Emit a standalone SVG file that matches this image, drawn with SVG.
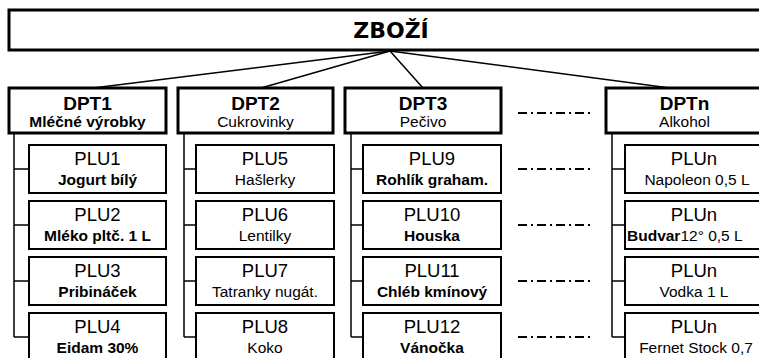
<svg xmlns="http://www.w3.org/2000/svg" width="759" height="358" viewBox="0 0 759 358">
<style>
text{font-family:"Liberation Sans",Arial,sans-serif;fill:#000;text-anchor:middle}
.top{fill:#fff;stroke:#000;stroke-width:3}
.dpt{fill:#fff;stroke:#000;stroke-width:3}
.plu{fill:#fff;stroke:#000;stroke-width:2}
.t0{font-family:"DejaVu Sans",sans-serif;font-weight:bold;font-size:22px}
.t1{font-weight:bold;font-size:19px}
.t2{font-size:15.5px}
.b{font-weight:bold}
.t3{font-size:18.5px}
.ln{stroke:#000;stroke-width:1.5;fill:none}
.dd{stroke:#000;stroke-width:2;fill:none;stroke-dasharray:9 4 2 4}
</style>
<g id="zbozi">
<rect class="top" x="9" y="10" width="760" height="40"/>
<text class="t0" x="391" y="38">ZBOŽÍ</text>
</g>
<g id="connectors">
<line class="ln" x1="390" y1="51" x2="93" y2="88"/>
<line class="ln" x1="390" y1="51" x2="261" y2="88"/>
<line class="ln" x1="390" y1="51" x2="423" y2="88"/>
<line class="ln" x1="390" y1="51" x2="670" y2="88"/>
<path class="ln" d="M14 133V337M14 169H29M14 225H29M14 281H29M14 337H29"/>
<path class="ln" d="M184 133V337M184 169H196M184 225H196M184 281H196M184 337H196"/>
<path class="ln" d="M351 133V337M351 169H363M351 225H363M351 281H363M351 337H363"/>
<path class="ln" d="M612 133V337M612 169H625M612 225H625M612 281H625M612 337H625"/>
<path class="dd" d="M518 113H591M518 169H591M518 225H591M518 281H591M518 337H591"/>
</g>
<g id="dpt1"><rect class="dpt" x="9" y="88" width="157" height="45"/><text class="t1" x="87.5" y="110">DPT1</text><text class="t2 b" x="87.5" y="127">Mléčné výrobky</text></g>
<g id="dpt2"><rect class="dpt" x="178" y="88" width="155" height="45"/><text class="t1" x="255.5" y="110">DPT2</text><text class="t2" x="255.5" y="127">Cukrovinky</text></g>
<g id="dpt3"><rect class="dpt" x="345" y="88" width="156" height="45"/><text class="t1" x="423" y="110">DPT3</text><text class="t2" x="423" y="127">Pečivo</text></g>
<g id="dptn"><rect class="dpt" x="606" y="88" width="157" height="45"/><text class="t1" x="684.5" y="110">DPTn</text><text class="t2" x="684.5" y="127">Alkohol</text></g>

<g id="plu1"><rect class="plu" x="29" y="145" width="137" height="48"/><text class="t3" x="97.5" y="165">PLU1</text><text class="t2 b" x="97.5" y="185">Jogurt bílý</text></g>
<g id="plu2"><rect class="plu" x="29" y="201" width="137" height="48"/><text class="t3" x="97.5" y="221">PLU2</text><text class="t2 b" x="97.5" y="241">Mléko pltč. 1 L</text></g>
<g id="plu3"><rect class="plu" x="29" y="257" width="137" height="48"/><text class="t3" x="97.5" y="277">PLU3</text><text class="t2 b" x="97.5" y="297">Pribináček</text></g>
<g id="plu4"><rect class="plu" x="29" y="313" width="137" height="48"/><text class="t3" x="97.5" y="333">PLU4</text><text class="t2 b" x="97.5" y="353">Eidam 30%</text></g>

<g id="plu5"><rect class="plu" x="196" y="145" width="138" height="48"/><text class="t3" x="265" y="165">PLU5</text><text class="t2" x="265" y="185">Hašlerky</text></g>
<g id="plu6"><rect class="plu" x="196" y="201" width="138" height="48"/><text class="t3" x="265" y="221">PLU6</text><text class="t2" x="265" y="241">Lentilky</text></g>
<g id="plu7"><rect class="plu" x="196" y="257" width="138" height="48"/><text class="t3" x="265" y="277">PLU7</text><text class="t2" x="265" y="297">Tatranky nugát.</text></g>
<g id="plu8"><rect class="plu" x="196" y="313" width="138" height="48"/><text class="t3" x="265" y="333">PLU8</text><text class="t2" x="265" y="353">Koko</text></g>

<g id="plu9"><rect class="plu" x="363" y="145" width="138" height="48"/><text class="t3" x="432" y="165">PLU9</text><text class="t2 b" x="432" y="185">Rohlík graham.</text></g>
<g id="plu10"><rect class="plu" x="363" y="201" width="138" height="48"/><text class="t3" x="432" y="221">PLU10</text><text class="t2 b" x="432" y="241">Houska</text></g>
<g id="plu11"><rect class="plu" x="363" y="257" width="138" height="48"/><text class="t3" x="432" y="277">PLU11</text><text class="t2 b" x="432" y="297">Chléb kmínový</text></g>
<g id="plu12"><rect class="plu" x="363" y="313" width="138" height="48"/><text class="t3" x="432" y="333">PLU12</text><text class="t2 b" x="432" y="353">Vánočka</text></g>

<g id="plun1"><rect class="plu" x="625" y="145" width="138" height="48"/><text class="t3" x="694" y="165">PLUn</text><text class="t2" x="697" y="185">Napoleon 0,5 L</text></g>
<g id="plun2"><rect class="plu" x="625" y="201" width="138" height="48"/><text class="t3" x="694" y="221">PLUn</text><text class="t2" x="627" y="241" style="text-anchor:start"><tspan class="b">Budvar</tspan>12° 0,5 L</text></g>
<g id="plun3"><rect class="plu" x="625" y="257" width="138" height="48"/><text class="t3" x="694" y="277">PLUn</text><text class="t2" x="694" y="297">Vodka 1 L</text></g>
<g id="plun4"><rect class="plu" x="625" y="313" width="138" height="48"/><text class="t3" x="694" y="333">PLUn</text><text class="t2" x="696" y="353">Fernet Stock 0,7</text></g>
</svg>
